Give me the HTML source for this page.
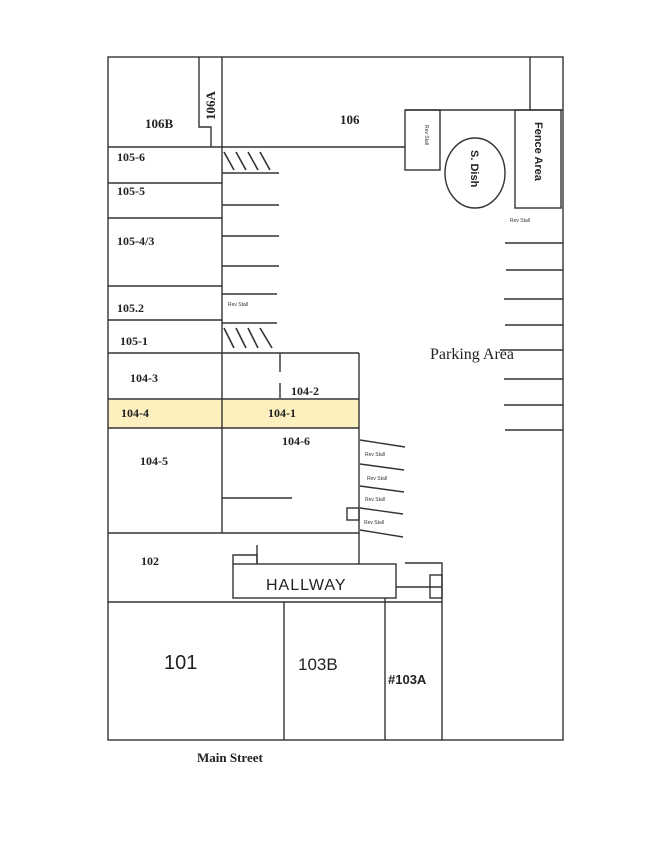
<!DOCTYPE html>
<html><head><style>
html,body{margin:0;padding:0;background:#fff;}
svg{display:block;}
text{font-family:"Liberation Serif",serif;font-weight:bold;fill:#222;}
.s{font-family:"Liberation Sans",sans-serif;font-size:5px;font-weight:normal;fill:#333;}
.h{font-family:"Liberation Sans",sans-serif;font-weight:normal;}
.a{font-family:"Liberation Sans",sans-serif;font-weight:bold;}
</style></head><body>
<svg width="650" height="841" viewBox="0 0 650 841" xmlns="http://www.w3.org/2000/svg">
<g stroke="#333" stroke-width="1.4" fill="none">
<rect x="222" y="400" width="137" height="28" fill="#fcf0bf" stroke="none"/>
<rect x="108" y="400" width="114" height="28" fill="#fcf0bf" stroke="none"/>
<rect x="108" y="57" width="455" height="683"/>
<line x1="222" y1="57" x2="222" y2="533"/>
<polyline points="199,57 199,127 211,127 211,147"/>
<line x1="108" y1="147" x2="405" y2="147"/>
<line x1="108" y1="183" x2="222" y2="183"/>
<line x1="108" y1="218" x2="222" y2="218"/>
<line x1="108" y1="286" x2="222" y2="286"/>
<line x1="108" y1="320" x2="222" y2="320"/>
<line x1="108" y1="353" x2="359" y2="353"/>
<line x1="108" y1="399" x2="359" y2="399"/>
<line x1="108" y1="428" x2="359" y2="428"/>
<line x1="108" y1="533" x2="359" y2="533"/>
<g stroke-width="1.6">
<line x1="224" y1="152" x2="234" y2="170"/><line x1="236" y1="152" x2="246" y2="170"/><line x1="248" y1="152" x2="258" y2="170"/><line x1="260" y1="152" x2="270" y2="170"/>
<line x1="224" y1="328" x2="234" y2="348"/><line x1="236" y1="328" x2="246" y2="348"/><line x1="248" y1="328" x2="258" y2="348"/><line x1="260" y1="328" x2="272" y2="348"/>
</g>
<line x1="222" y1="173" x2="279" y2="173"/>
<line x1="222" y1="205" x2="279" y2="205"/>
<line x1="222" y1="236" x2="279" y2="236"/>
<line x1="222" y1="266" x2="279" y2="266"/>
<line x1="222" y1="294" x2="277" y2="294"/>
<line x1="222" y1="323" x2="277" y2="323"/>
<line x1="359" y1="353" x2="359" y2="564"/>
<line x1="280" y1="353" x2="280" y2="372"/><line x1="280" y1="383" x2="280" y2="398"/>
<line x1="222" y1="498" x2="292" y2="498"/>
<line x1="360" y1="440" x2="405" y2="447"/>
<line x1="360" y1="464" x2="404" y2="470"/>
<line x1="360" y1="486" x2="404" y2="492"/>
<line x1="360" y1="508" x2="403" y2="514"/>
<line x1="360" y1="530" x2="403" y2="537"/>
<rect x="347" y="508" width="12" height="12"/>
<rect x="233" y="564" width="163" height="34"/>
<line x1="108" y1="602" x2="442" y2="602"/>
<polyline points="233,564 233,555 257,555 257,564"/>
<line x1="257" y1="545" x2="257" y2="564"/>
<line x1="396" y1="587" x2="442" y2="587"/>
<polyline points="405,563 442,563 442,740"/>
<rect x="430" y="575" width="12" height="23"/>
<line x1="284" y1="602" x2="284" y2="740"/>
<line x1="385" y1="598" x2="385" y2="740"/>
<line x1="530" y1="57" x2="530" y2="110"/>
<line x1="405" y1="110" x2="563" y2="110"/>
<rect x="405" y="110" width="35" height="60"/>
<rect x="515" y="110" width="46" height="98"/>
<ellipse cx="475" cy="173" rx="30" ry="35"/>
<line x1="505" y1="243" x2="563" y2="243"/>
<line x1="506" y1="270" x2="563" y2="270"/>
<line x1="504" y1="299" x2="563" y2="299"/>
<line x1="505" y1="325" x2="563" y2="325"/>
<line x1="500" y1="350" x2="563" y2="350"/>
<line x1="504" y1="379" x2="563" y2="379"/>
<line x1="504" y1="405" x2="563" y2="405"/>
<line x1="505" y1="430" x2="563" y2="430"/>
</g>
<text x="145" y="128" font-size="13">106B</text>
<text x="215" y="120" font-size="13" transform="rotate(-90 215 120)">106A</text>
<text x="340" y="124" font-size="13">106</text>
<text x="117" y="161" font-size="12">105-6</text>
<text x="117" y="195" font-size="12">105-5</text>
<text x="117" y="245" font-size="12">105-4/3</text>
<text x="117" y="312" font-size="12">105.2</text>
<text x="120" y="345" font-size="12">105-1</text>
<text x="130" y="382" font-size="12">104-3</text>
<text x="121" y="417" font-size="12">104-4</text>
<text x="268" y="417" font-size="12">104-1</text>
<text x="291" y="395" font-size="12">104-2</text>
<text x="282" y="445" font-size="12">104-6</text>
<text x="140" y="465" font-size="12">104-5</text>
<text x="141" y="565" font-size="12">102</text>
<text x="266" y="590" font-size="16" class="h" letter-spacing="1">HALLWAY</text>
<text x="164" y="669" font-size="20" class="h">101</text>
<text x="298" y="670" font-size="17" class="h">103B</text>
<text x="388" y="684" font-size="13" class="a">#103A</text>
<text x="197" y="762" font-size="13">Main Street</text>
<text x="430" y="359" font-size="16" style="font-weight:normal">Parking Area</text>
<text x="535" y="122" font-size="11" class="a" transform="rotate(90 535 122)">Fence Area</text>
<text x="471" y="150" font-size="11" class="a" transform="rotate(90 471 150)">S. Dish</text>
<text x="425" y="125" class="s" transform="rotate(90 425 125)">Rev Stall</text>
<text x="510" y="222" class="s">Rev Stall</text>
<text x="228" y="306" class="s">Rev Stall</text>
<text x="365" y="456" class="s">Rev Stall</text>
<text x="367" y="480" class="s">Rev Stall</text>
<text x="365" y="501" class="s">Rev Stall</text>
<text x="364" y="524" class="s">Rev Stall</text>
</svg>
</body></html>
